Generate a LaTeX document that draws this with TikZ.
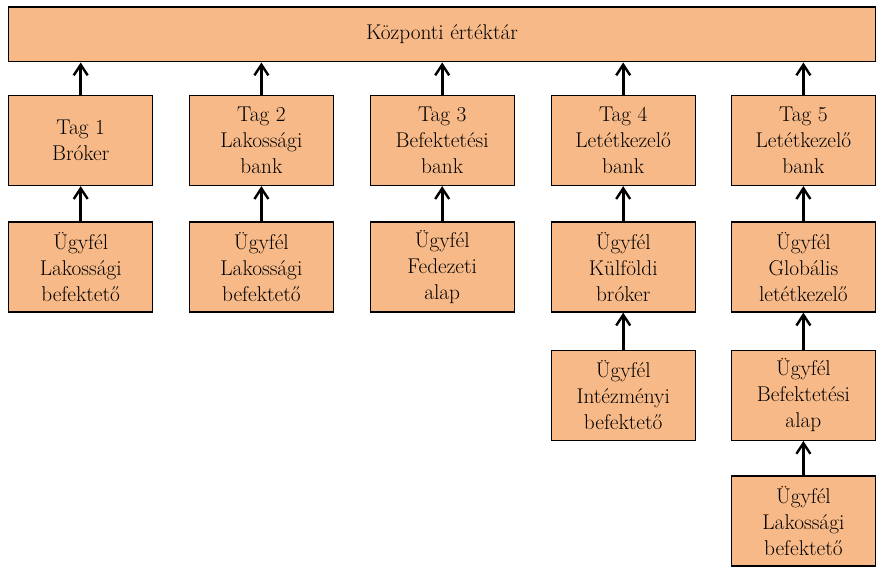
\documentclass[tikz,border=0pt]{standalone}
\usepackage{fontspec}
\usetikzlibrary{arrows.meta,positioning}
\definecolor{boxfill}{RGB}{246,185,135}
\tikzset{box/.style={draw=black,fill=boxfill,line width=1pt,minimum width=108pt,
                     minimum height=67.5pt,align=center,inner sep=0pt,
                     font=\fontsize{16}{19.5}\selectfont},
         wide/.style={box,minimum width=650pt,minimum height=41pt},
         up/.style={-{Straight Barb[length=8pt,width=10.5pt,line width=1.8pt]},line width=2.1pt}
}
\begin{document}
\begin{tikzpicture}[x=0.75pt,y=-0.75pt]
  \useasboundingbox (0,0) rectangle (878,567);
  % central depository
  \node[wide] (cd) at (442,34.5) {Központi értéktár};
  % members
  \node[box] (t1) at (80.7,140.5) {Tag 1\\Bróker};
  \node[box] (t2) at (261.4,140.5) {Tag 2\\Lakossági\\bank};
  \node[box] (t3) at (442.2,140.5) {Tag 3\\Befektetési\\bank};
  \node[box] (t4) at (623.2,140.5) {Tag 4\\Letétkezelő\\bank};
  \node[box] (t5) at (803.4,140.5) {Tag 5\\Letétkezelő\\bank};
  % clients
  \node[box] (c1) at (80.7,267) {Ügyfél\\Lakossági\\befektető};
  \node[box] (c2) at (261.4,267) {Ügyfél\\Lakossági\\befektető};
  \node[box] (c3) at (442.2,267) {Ügyfél\\Fedezeti\\alap};
  \node[box] (c4) at (623.2,267) {Ügyfél\\Külföldi\\bróker};
  \node[box] (c5) at (803.4,267) {Ügyfél\\Globális\\letétkezelő};
  \node[box] (d4) at (623.2,395.3) {Ügyfél\\Intézményi\\befektető};
  \node[box] (d5) at (803.4,395.3) {Ügyfél\\Befektetési\\alap};
  \node[box] (e5) at (803.4,521) {Ügyfél\\Lakossági\\befektető};
  % arrows
  \draw[up] (t1.north) -- (t1.north |- cd.south);
  \draw[up] (t2.north) -- (t2.north |- cd.south);
  \draw[up] (t3.north) -- (t3.north |- cd.south);
  \draw[up] (t4.north) -- (t4.north |- cd.south);
  \draw[up] (t5.north) -- (t5.north |- cd.south);
  \draw[up] (c1) -- (t1);
  \draw[up] (c2) -- (t2);
  \draw[up] (c3) -- (t3);
  \draw[up] (c4) -- (t4);
  \draw[up] (c5) -- (t5);
  \draw[up] (d4) -- (c4);
  \draw[up] (d5) -- (c5);
  \draw[up] (e5) -- (d5);
\end{tikzpicture}
\end{document}
